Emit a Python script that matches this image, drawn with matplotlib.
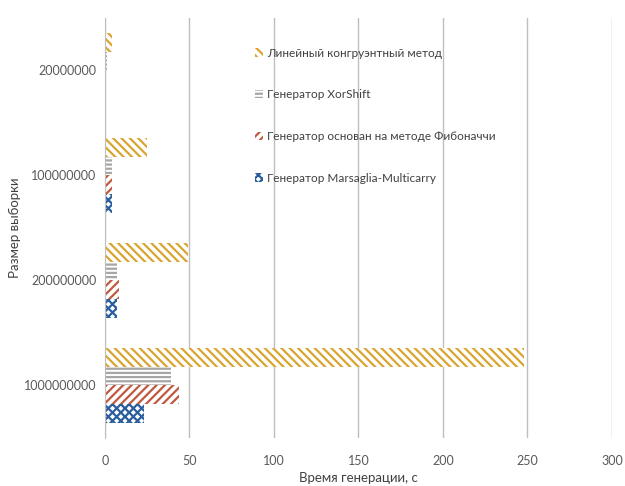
import matplotlib
matplotlib.use("Agg")
import matplotlib.pyplot as plt
import numpy as np
from matplotlib.patches import Patch

categories = ["1000000000", "200000000", "100000000", "20000000"]
series_names = ["Линейный конгруэнтный метод", "Генератор XorShift",
                "Генератор основан на методе Фибоначчи", "Генератор Marsaglia-Multicarry"]
lcg = [248, 49, 25, 4]
xorshift = [39, 7, 4, 1]
fib = [44, 8, 4, 0.8]
marsaglia = [23, 7, 4, 0.8]

colors = ["#D9A530", "#A6A6A6", "#BF5A3E", "#2A5E9E"]
hatches = ["\\\\\\\\", "----", "////", "xxxx"]

plt.rcParams['font.family'] = ['Lato', 'DejaVu Sans']
plt.rcParams['hatch.linewidth'] = 1.6

fig = plt.figure(figsize=(6.25, 4.86), dpi=100)
ax = fig.add_axes([0.168, 0.099, 0.811, 0.864])

y = np.arange(len(categories))
h = 0.18
offsets = [0.27, 0.09, -0.09, -0.27]
data = [lcg, xorshift, fib, marsaglia]
for vals, off, c, ht in zip(data, offsets, colors, hatches):
    ax.barh(y + off, vals, height=h, facecolor="white", edgecolor=c, hatch=ht, linewidth=0)

ax.set_xlim(0, 300)
ax.set_ylim(-0.5, 3.5)
ax.set_xticks(np.arange(0, 301, 50))
ax.set_yticks(y)
ax.set_yticklabels(categories)
ax.grid(axis='x', color="#BFBFBF", linewidth=1)
ax.set_axisbelow(True)
for s in ["top", "right", "bottom"]:
    ax.spines[s].set_visible(False)
ax.spines["left"].set_color("#BFBFBF")
ax.tick_params(axis='y', length=0, labelsize=9, colors="#595959", pad=6)
ax.tick_params(axis='x', length=0, labelsize=9, colors="#595959", pad=12)
ax.set_xlabel("Время генерации, с", fontsize=9.5, color="#404040")
ax.xaxis.set_label_coords(0.5, -0.095)
ax.xaxis.label.set_va("center")
ax.set_ylabel("Размер выборки", fontsize=9.5, color="#404040", labelpad=2)

handles = [Patch(facecolor="white", edgecolor=c, hatch=ht, linewidth=0) for c, ht in zip(colors, hatches)]
leg = ax.legend(handles, series_names, loc="upper left", bbox_to_anchor=(0.275, 0.955),
                frameon=False, fontsize=8.5, labelspacing=2.6, handlelength=0.7,
                handleheight=0.7, handletextpad=0.3)
for t in leg.get_texts():
    t.set_color("#404040")

fig.savefig("out.png", dpi=100)
